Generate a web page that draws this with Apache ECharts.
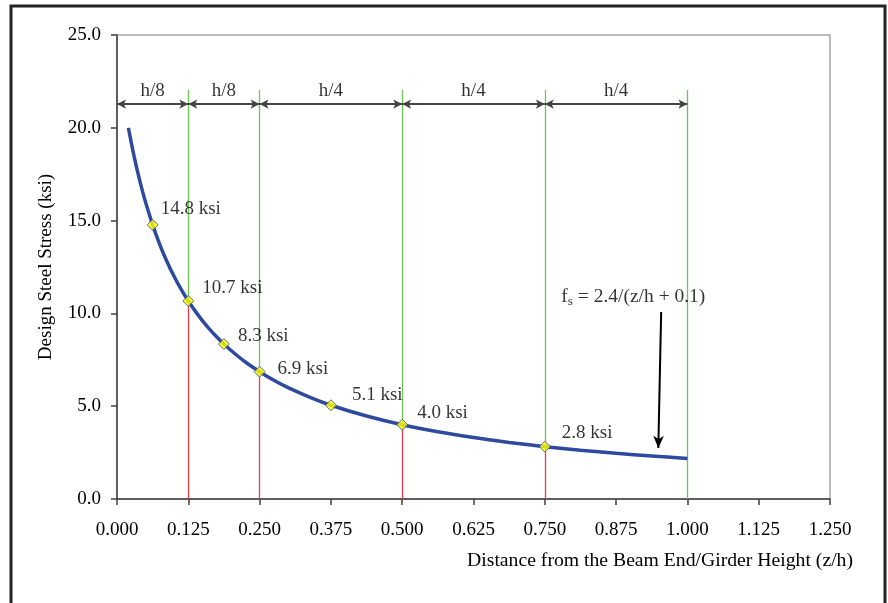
<!DOCTYPE html>
<html>
<head>
<meta charset="utf-8">
<script src="https://cdn.jsdelivr.net/npm/echarts@6/dist/echarts.min.js"></script>
<style>html,body{margin:0;padding:0;background:#fff;}#c{width:888px;height:603px;}</style>
</head>
<body>
<div id="c"></div>
<script>
// Curve: design steel stress vs z/h
var curveX = [0.02, 0.025, 0.03, 0.035, 0.04, 0.045, 0.05, 0.0625, 0.075, 0.0875, 0.1, 0.1125, 0.125, 0.1375, 0.15, 0.1625, 0.175, 0.1875, 0.2, 0.225, 0.25, 0.275, 0.3, 0.3375, 0.375, 0.4375, 0.5, 0.5625, 0.625, 0.6875, 0.75, 0.8125, 0.875, 0.9375, 1.0];
var curveY = [20.0, 19.2, 18.46, 17.78, 17.14, 16.55, 16.0, 14.77, 13.71, 12.8, 12.0, 11.29, 10.67, 10.11, 9.6, 9.14, 8.73, 8.35, 8.0, 7.38, 6.86, 6.4, 6.0, 5.49, 5.05, 4.47, 4.0, 3.62, 3.31, 3.05, 2.82, 2.63, 2.46, 2.32, 2.18];
// Labelled points
var markerX = [0.0625, 0.125, 0.1875, 0.25, 0.375, 0.5, 0.75];
var markerY = [14.77, 10.67, 8.35, 6.86, 5.05, 4.0, 2.82];
var markerLabels = ['14.8 ksi', '10.7 ksi', '8.3 ksi', '6.9 ksi', '5.1 ksi', '4.0 ksi', '2.8 ksi'];
// Divider lines and spans
var dividerX = [0.125, 0.25, 0.5, 0.75, 1.0];
var dividerCurveY = [10.67, 6.86, 4.0, 2.82, 2.18];
var spanBounds = [0, 0.125, 0.25, 0.5, 0.75, 1.0];
var spanLabels = ['h/8', 'h/8', 'h/4', 'h/4', 'h/4'];
var dividerTop = 22.04;
var spanArrowY = 21.28;
var spanLabelY = 21.98;
// Axis ticks
var xTicks = {min: 0, max: 1.25, step: 0.125};
var yTicks = {min: 0, max: 25, step: 5};
// Equation annotation
var eqPos = [0.779, 10.88];
var eqArrow = [[0.954, 10.08], [0.949, 2.75]];

var FONT = 'Liberation Serif';
var chart = echarts.init(document.getElementById('c'), null, {renderer: 'canvas'});

var curveData = curveX.map(function (x, i) { return [x, curveY[i]]; });
var markerData = markerX.map(function (x, i) { return {value: [x, markerY[i]], name: markerLabels[i]}; });
var labelOffsets = [[2, -16], [8, -13], [8, -8], [12, -3], [15, -10], [9, -12], [11, -14]];
markerData.forEach(function (d, i) {
  d.label = {offset: labelOffsets[i]};
});

var greenLines = dividerX.map(function (x, i) {
  var bottom = (i === dividerX.length - 1) ? 0 : dividerCurveY[i];
  return [{coord: [x, dividerTop]}, {coord: [x, bottom]}];
});
var redLines = dividerX.slice(0, dividerX.length - 1).map(function (x, i) {
  return [{coord: [x, dividerCurveY[i]]}, {coord: [x, 0]}];
});
var spanLines = spanLabels.map(function (s, i) {
  return [{coord: [spanBounds[i], spanArrowY]}, {coord: [spanBounds[i + 1], spanArrowY]}];
});
var spanLabelData = spanLabels.map(function (s, i) {
  return {value: [(spanBounds[i] + spanBounds[i + 1]) / 2, spanLabelY], name: s};
});

var option = {
  animation: false,
  backgroundColor: '#ffffff',
  textStyle: {fontFamily: FONT},
  grid: {left: 117, right: 58, top: 35, bottom: 104, show: true, borderColor: '#a8a8a8', borderWidth: 1.5, backgroundColor: 'transparent'},
  xAxis: {
    type: 'value', min: xTicks.min, max: xTicks.max, interval: xTicks.step,
    axisLine: {show: true, onZero: false, lineStyle: {color: '#404040', width: 1.5}},
    axisTick: {show: true, inside: false, length: 6, lineStyle: {color: '#404040', width: 1.5}},
    axisLabel: {fontFamily: FONT, fontSize: 19, color: '#000', margin: 22, formatter: function (v) { return v.toFixed(3); }},
    splitLine: {show: false}
  },
  yAxis: {
    type: 'value', min: yTicks.min, max: yTicks.max, interval: yTicks.step,
    name: 'Design Steel Stress (ksi)',
    nameLocation: 'middle', nameGap: 61, nameRotate: 90,
    nameTextStyle: {fontFamily: FONT, fontSize: 19, color: '#000'},
    axisLine: {show: true, onZero: false, lineStyle: {color: '#404040', width: 1.5}},
    axisTick: {show: true, inside: false, length: 6, lineStyle: {color: '#404040', width: 1.5}},
    axisLabel: {fontFamily: FONT, fontSize: 19, color: '#000', margin: 16, formatter: function (v) { return v.toFixed(1); }},
    splitLine: {show: false}
  },
  graphic: [{
    type: 'rect', z: 100, silent: true,
    shape: {x: 11, y: 6, width: 874, height: 640},
    style: {fill: 'none', stroke: '#222', lineWidth: 3}
  }, {
    type: 'text', z: 100, silent: true, x: 853, y: 561,
    style: {text: 'Distance from the Beam End/Girder Height (z/h)', font: '19.7px "Liberation Serif"', fill: '#000', align: 'right', verticalAlign: 'middle'}
  }],
  series: [
    {
      type: 'line', name: 'green', data: [], silent: true,
      markLine: {silent: true, symbol: ['none', 'none'], label: {show: false},
        lineStyle: {color: '#72c452', width: 1.3, type: 'solid'}, data: greenLines}
    },
    {
      type: 'line', name: 'red', data: [], silent: true,
      markLine: {silent: true, symbol: ['none', 'none'], label: {show: false},
        lineStyle: {color: '#ee3b47', width: 1.3, type: 'solid'}, data: redLines}
    },
    {
      type: 'line', name: 'spans', data: [], silent: true,
      markLine: {silent: true, symbol: ['arrow', 'arrow'], symbolSize: [7, 9], label: {show: false},
        lineStyle: {color: '#444', width: 2, type: 'solid'}, data: spanLines}
    },
    {
      type: 'line', name: 'curve', data: curveData, smooth: 0.3,
      showSymbol: false, symbol: 'none', z: 5,
      lineStyle: {color: '#2e4a9f', width: 3.5}
    },
    {
      type: 'scatter', name: 'points', data: markerData, z: 6,
      symbol: 'diamond', symbolSize: 11,
      itemStyle: {color: '#ffff00', borderColor: '#2e4a9f', borderWidth: 1},
      label: {show: true, position: 'right', distance: 0, formatter: '{b}', fontFamily: FONT, fontSize: 19, color: '#000'}
    },
    {
      type: 'scatter', name: 'spanLabels', data: spanLabelData, symbolSize: 0, z: 6,
      label: {show: true, position: 'inside', formatter: '{b}', fontFamily: FONT, fontSize: 19, color: '#000'}
    },
    {
      type: 'scatter', name: 'equation', data: [{value: eqPos, name: 'eq'}], symbolSize: 0, z: 6,
      label: {
        show: true, position: 'right', distance: 0,
        formatter: '{a|f}{s|s}{a| = 2.4/(z/h + 0.1)}',
        rich: {
          a: {fontFamily: FONT, fontSize: 19.5, color: '#000', lineHeight: 24},
          s: {fontFamily: FONT, fontSize: 13, color: '#000', lineHeight: 16, padding: [10, 0, 0, 0]}
        }
      },
      markLine: {silent: true, symbol: ['none', 'arrow'], symbolSize: [8, 12], label: {show: false},
        lineStyle: {color: '#000', width: 2, type: 'solid'},
        data: [[{coord: eqArrow[0]}, {coord: eqArrow[1]}]]}
    }
  ]
};
chart.setOption(option);
</script>
</body>
</html>
